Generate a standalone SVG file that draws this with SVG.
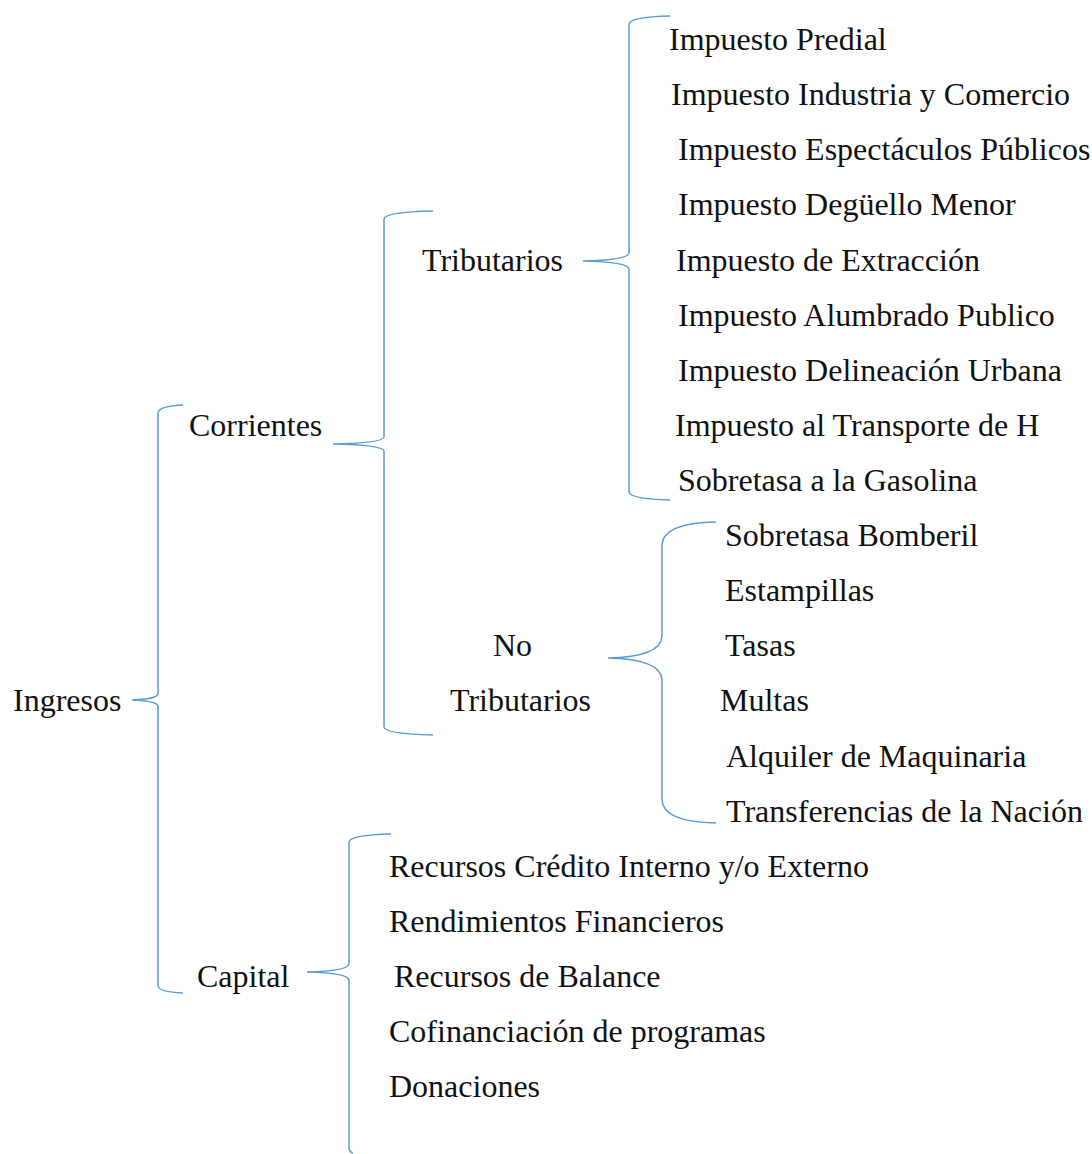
<svg xmlns="http://www.w3.org/2000/svg" width="1092" height="1154" viewBox="0 0 1092 1154">
<style>
text{font-family:"Liberation Serif","Times New Roman",serif;font-size:32px;fill:#111;}
.br{fill:none;stroke:#5B9BD5;stroke-width:1.5;}
</style>
<rect width="1092" height="1154" fill="#fff"/>
<g id="connectors">
<path class="br" d="M183,405 Q159,406 158,413 L158,694 Q157,699 132,700 Q157,701 158,706 L158,986 Q159,992 183,993"/>
<path class="br" d="M433,211 Q385,212 384,219 L384,437 Q383,443 333,444 Q383,445 384,451 L384,727 Q385,734 433,735"/>
<path class="br" d="M670,16 Q630,17 629,24 L629,253 Q628,260 583,261 Q628,262 629,269 L629,492 Q630,499 670,500"/>
<path class="br" d="M716,522 Q663,523 662,545 L662,636 Q661,657 608,658 Q661,659 662,680 L662,800 Q663,822 716,823"/>
<path class="br" d="M391,834 Q350,835 349,842 L349,964 Q348,971 307,972 Q348,973 349,980 L349,1147 Q349,1152 353,1153"/>
</g>
<g id="n-ingresos"><text x="13" y="711">Ingresos</text></g>
<g id="n-corrientes"><text x="189" y="436">Corrientes</text></g>
<g id="n-capital"><text x="197" y="987">Capital</text></g>
<g id="n-tributarios"><text x="422" y="271">Tributarios</text></g>
<g id="n-notributarios"><text x="493" y="656">No</text><text x="450" y="711">Tributarios</text></g>
<g id="n-tributarios-items">
<text x="669" y="50">Impuesto Predial</text>
<text x="671" y="105">Impuesto Industria y Comercio</text>
<text x="678" y="160">Impuesto Espectáculos Públicos</text>
<text x="678" y="215">Impuesto Degüello Menor</text>
<text x="676" y="271">Impuesto de Extracción</text>
<text x="678" y="326">Impuesto Alumbrado Publico</text>
<text x="678" y="381">Impuesto Delineación Urbana</text>
<text x="675" y="436">Impuesto al Transporte de H</text>
<text x="678" y="491">Sobretasa a la Gasolina</text>
</g>
<g id="n-notributarios-items">
<text x="725" y="546">Sobretasa Bomberil</text>
<text x="725" y="601">Estampillas</text>
<text x="725" y="656">Tasas</text>
<text x="720" y="711">Multas</text>
<text x="726" y="767">Alquiler de Maquinaria</text>
<text x="726" y="822">Transferencias de la Nación</text>
</g>
<g id="n-capital-items">
<text x="389" y="877">Recursos Crédito Interno y/o Externo</text>
<text x="389" y="932">Rendimientos Financieros</text>
<text x="394" y="987">Recursos de Balance</text>
<text x="389" y="1042">Cofinanciación de programas</text>
<text x="389" y="1097">Donaciones</text>
</g>
</svg>
